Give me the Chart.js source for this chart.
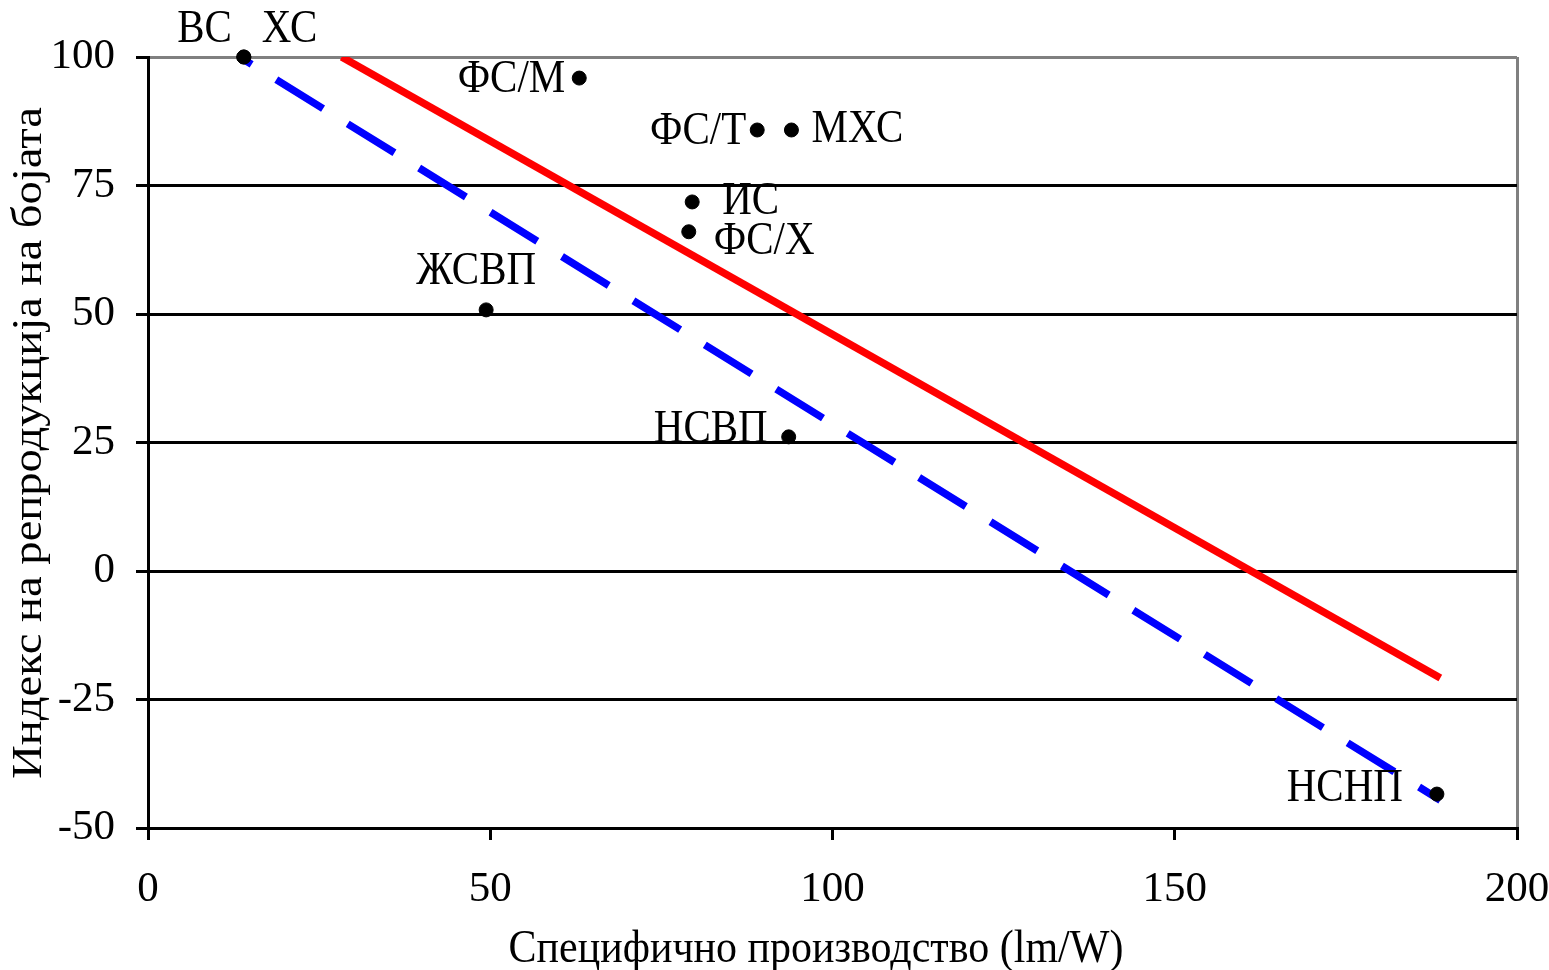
<!DOCTYPE html>
<html>
<head>
<meta charset="utf-8">
<script src="https://cdn.jsdelivr.net/npm/chart.js@4.4.1/dist/chart.umd.min.js"></script>
<style>
  html, body { margin: 0; padding: 0; background: #fff; }
  #wrap { width: 1549px; height: 970px; }
</style>
</head>
<body>
<div id="wrap"><canvas id="chart" width="1549" height="970"></canvas></div>
<script>
// lamp types and their (efficacy, CRI) values
const lampNames = ['ВС', 'ХС', 'ФС/М', 'ФС/Т', 'МХС', 'ИС', 'ФС/Х', 'ЖСВП', 'НСВП', 'НСНП'];
const efficacy = [14, 14, 63, 89, 94, 79.5, 79, 49.4, 93.6, 188.3];
const cri = [100, 100, 95.9, 85.8, 85.8, 71.8, 66, 50.8, 26.1, -43.4];

// two trend lines (start, end)
const redLineX = [28.3, 188.8];
const redLineY = [100, -20.8];
const blueLineX = [13.4, 188.8];
const blueLineY = [100, -44.6];

const xTitle = 'Специфично производство (lm/W)';
const yTitle = 'Индекс на репродукција на бојата';

// where each name goes relative to its point: [align, dx, dy]
const labelPlace = [
  ['right', -12, -27], ['left', 18, -27], ['right', -14, 2], ['right', -11, 2],
  ['left', 20, 0], ['left', 30, 0], ['left', 25, 10], ['center', -10, -38],
  ['right', -21, -7], ['right', -34, -5]
];

const FONT = '"Liberation Serif", "Times New Roman", serif';
const STRETCH = 1.11; // the original text is a bit taller than wide

const pointLabels = {
  id: 'pointLabels',
  afterDatasetsDraw(chart) {
    const ctx = chart.ctx;
    const meta = chart.getDatasetMeta(0);
    ctx.save();
    ctx.font = '41px ' + FONT;
    ctx.fillStyle = '#000';
    ctx.textBaseline = 'middle';
    meta.data.forEach((pt, i) => {
      const [align, dx, dy] = labelPlace[i];
      ctx.save();
      ctx.translate(pt.x + dx, pt.y + dy);
      ctx.scale(1, STRETCH);
      ctx.textAlign = align;
      ctx.fillText(lampNames[i], 0, 0);
      ctx.restore();
    });
    ctx.restore();
  }
};

// axis titles drawn by hand so they can be stretched like the original
const axisTitles = {
  id: 'axisTitles',
  afterDraw(chart) {
    const ctx = chart.ctx;
    ctx.save();
    ctx.font = '42px ' + FONT;
    ctx.fillStyle = '#000';
    ctx.textAlign = 'center';
    ctx.textBaseline = 'middle';

    ctx.save();
    ctx.translate(816, 950);
    ctx.scale(1, STRETCH);
    ctx.fillText(xTitle, 0, 0);
    ctx.restore();

    ctx.save();
    ctx.translate(30, 443);
    ctx.rotate(-Math.PI / 2);
    ctx.scale(STRETCH, 1);
    ctx.fillText(yTitle, 0, 0);
    ctx.restore();

    ctx.restore();
  }
};

const toXY = (xs, ys) => xs.map((x, i) => ({ x, y: ys[i] }));

new Chart(document.getElementById('chart'), {
  type: 'scatter',
  data: {
    datasets: [
      {
        data: toXY(efficacy, cri),
        backgroundColor: '#000',
        borderColor: '#000',
        pointRadius: 7,
        clip: false
      },
      {
        type: 'line',
        data: toXY(redLineX, redLineY),
        borderColor: '#ff0000',
        borderWidth: 7.5,
        pointRadius: 0,
        fill: false
      },
      {
        type: 'line',
        data: toXY(blueLineX, blueLineY),
        borderColor: '#0000ff',
        borderWidth: 7.5,
        borderDash: [55, 29],
        borderDashOffset: 41,
        pointRadius: 0,
        fill: false
      }
    ]
  },
  options: {
    responsive: false,
    animation: false,
    layout: { padding: { top: 57, right: 32, left: 0, bottom: 0 } },
    plugins: { legend: { display: false }, tooltip: { enabled: false } },
    scales: {
      x: {
        type: 'linear',
        min: 0, max: 200,
        ticks: { stepSize: 50, color: '#000', padding: 24, maxRotation: 0, font: { family: FONT, size: 43 } },
        grid: {
          color: c => c.tick && c.tick.value === 200 ? '#808080' : 'rgba(0,0,0,0)',
          lineWidth: 3,
          tickColor: '#000',
          tickLength: 12,
          tickWidth: 3
        },
        border: { color: '#000', width: 3 },
        afterFit: s => { s.height = 142; s.paddingLeft = 0; s.paddingRight = 0; }
      },
      y: {
        min: -50, max: 100,
        ticks: { stepSize: 25, color: '#000', padding: 21, font: { family: FONT, size: 43 } },
        grid: {
          color: c => c.tick && c.tick.value === 100 ? '#808080' : '#000',
          lineWidth: 3,
          tickColor: '#000',
          tickLength: 12,
          tickWidth: 3
        },
        border: { color: '#000', width: 3 },
        afterFit: s => { s.width = 148; s.paddingTop = 0; s.paddingBottom = 0; }
      }
    }
  },
  plugins: [pointLabels, axisTitles]
});
</script>
</body>
</html>
